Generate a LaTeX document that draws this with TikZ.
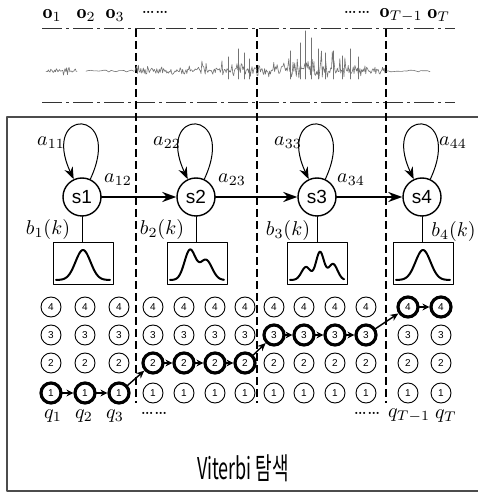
\documentclass[tikz,border=0pt]{standalone}
\usepackage{fontspec}
\usepackage{graphicx}
\newfontfamily\statefont{Liberation Sans}
\newfontfamily\krfont{Noto Sans CJK KR}
\usetikzlibrary{arrows.meta,positioning}
\tikzset{viterbi/.style={
  x=0.5pt,y=0.5pt,
  >=Stealth,line join=round,line cap=round
},
state/.style={circle,draw,line width=0.7pt,minimum size=19pt,inner sep=0pt,
  font=\statefont\fontsize{9.5}{9.5}\selectfont},
pdfbox/.style={draw,line width=0.5pt,minimum width=30pt,minimum height=21pt,inner sep=0pt},
cell/.style={circle,draw,minimum size=10pt,inner sep=0pt,
  font=\statefont\fontsize{5}{5}\selectfont},
trans/.style={-{Stealth[length=7pt,width=5pt]},line width=1.1pt},
selfloop/.style={-{Stealth[length=6pt,width=4.5pt]},line width=0.5pt},
hop/.style={-{Stealth[length=3.5pt,width=3.5pt]},line width=1pt,shorten <=-0.5pt},
jump/.style={-{Stealth[length=4pt,width=3.5pt]},line width=0.7pt},
seg/.style={dash pattern=on 4pt off 2pt,line width=0.6pt,line cap=butt},
band/.style={dash pattern=on 10pt off 2pt on 1.5pt off 2pt,line width=0.5pt,line cap=butt,black!80},
wave/.style={line width=0.3pt,black!55},
density/.style={line width=1pt,smooth}
}
\begin{document}
\begin{tikzpicture}[viterbi]
  \useasboundingbox (0,0) rectangle (477,493);
  \pgfmathsetseed{11}
  \draw[line width=1.3pt,black!70] (7,2) rectangle (484,376);
  \node (o1) at (52,478) {$\mathbf{o}_1$};
  \node (o2) at (86,478) {$\mathbf{o}_2$};
  \node (o3) at (115,478) {$\mathbf{o}_3$};
  \node (odots1) at (155,481) {\ldots\ldots};
  \node (odots2) at (357,481) {\ldots\ldots};
  \node[anchor=east,inner sep=0pt] (oT1) at (423,478) {$\mathbf{o}_{T-1}$};
  \node[anchor=west,inner sep=0pt] (oT) at (427,478) {$\mathbf{o}_T$};
  \draw[band] (42,464) -- (455,464);
  \draw[band] (42,390) -- (455,390);
  \foreach \x in {136,257,386}
    \draw[seg] (\x,464) -- (\x,90);
  \draw[wave] plot[domain=46:77,samples=40] (\x,{422+5*rand*rand});
  \draw[wave] plot[domain=86:134,samples=20] (\x,{422+1*rand});
  \draw[wave] plot[domain=135:385,samples=300]
    (\x,{422+2.5*rand+(8+16*exp(-((\x-315)/40)*((\x-315)/40))+8*exp(-((\x-240)/20)*((\x-240)/20)))*(1.6*rnd*rnd*rnd-0.5*rnd*rnd)});
  \draw[wave] plot[domain=386:430,samples=20] (\x,{422+0.8*rand});
  \foreach \x/\h in {228/14,238/22,244/18,249/12,290/20,300/28,305/40,311/33,318/22,325/18,333/20,342/15,350/22,358/14}
    \draw[wave,line width=0.5pt] (\x,414) -- (\x,422+\h);
  \node[state] (s1) at (82,296) {s1};
  \node[state] (s2) at (196,296) {s2};
  \node[state] (s3) at (317,296) {s3};
  \node[state] (s4) at (422,296) {s4};
  \node[pdfbox] (pdf1) at (83,229) {};
  \node[pdfbox] (pdf2) at (197,229) {};
  \node[pdfbox] (pdf3) at (317,229) {};
  \node[pdfbox] (pdf4) at (423,229) {};
  \foreach \i in {1,...,4}{
    \draw[selfloop] (s\i.65) .. controls +(65:80) and +(115:80) .. (s\i.115);
    \draw[line width=0.5pt] (s\i) -- (s\i |- pdf\i.north);
  }
  \draw[trans] (s1) -- (s2);
  \draw[trans] (s2) -- (s3);
  \draw[trans] (s3) -- (s4);
  \begin{scope}[shift={(pdf1.center)}]
    \draw[density] plot[domain=-27:27,samples=50] (\x,{-16+30*exp(-((\x)*(\x))/112)});
  \end{scope}
  \begin{scope}[shift={(pdf2.center)}]
    \draw[density] plot[domain=-27:27,samples=60]
      (\x,{-16+30*exp(-((\x+7)*(\x+7))/60.5)+20*exp(-((\x-9)*(\x-9))/72)});
  \end{scope}
  \begin{scope}[shift={(pdf3.center)}]
    \draw[density] plot[domain=-27:27,samples=70]
      (\x,{-16+13*exp(-((\x+11)*(\x+11))/40)+28*exp(-((\x-3)*(\x-3))/32)+16*exp(-((\x-16)*(\x-16))/40)});
  \end{scope}
  \begin{scope}[shift={(pdf4.center)}]
    \draw[density] plot[domain=-27:27,samples=50] (\x,{-16+30*exp(-((\x)*(\x))/112)});
  \end{scope}
  \node (a11) at (51,350) {$a_{11}$};
  \node (a22) at (167,350) {$a_{22}$};
  \node (a33) at (288,350) {$a_{33}$};
  \node (a44) at (453,350) {$a_{44}$};
  \node (a12) at (118,313) {$a_{12}$};
  \node (a23) at (232,313) {$a_{23}$};
  \node (a34) at (351,313) {$a_{34}$};
  \node (b1) at (48,263) {$b_1(k)$};
  \node (b2) at (162,263) {$b_2(k)$};
  \node (b3) at (288,262) {$b_3(k)$};
  \node[anchor=east,inner sep=0pt] (b4) at (476,261) {$b_4(k)$};
  \foreach \x/\p [count=\c] in {51/1,85/1,119/1,153/2,184/2,215/2,245/2,274/3,304/3,335/3,366/3,408/4,441/4}
    \foreach \y [count=\r] in {100,130,158,186}{
      \pgfmathsetmacro\lw{\r==\p ? 1.6 : 0.45}
      \node[cell,line width=\lw pt] (g\c-\r) at (\x,\y) {\r};
    }
  \foreach \a/\b in {1-1/2-1,2-1/3-1,4-2/5-2,5-2/6-2,6-2/7-2,8-3/9-3,9-3/10-3,10-3/11-3,12-4/13-4}
    \draw[hop] (g\a) -- (g\b);
  \foreach \a/\b in {3-1/4-2,7-2/8-3,11-3/12-4}
    \draw[jump] (g\a) -- (g\b);
  \node (q1) at (53,77) {$q_1$};
  \node (q2) at (84,77) {$q_2$};
  \node (q3) at (115,77) {$q_3$};
  \node[inner sep=0pt] (qdots1) at (154,80) {\ldots\ldots};
  \node[inner sep=0pt] (qdots2) at (367,80) {\ldots\ldots};
  \node (qT1) at (409,77) {$q_{T-1}$};
  \node (qT) at (446,77) {$q_T$};
  \node (title) at (243,25) {\scalebox{0.6}[1]{\krfont\fontsize{15}{15}\selectfont Viterbi 탐색}};
\end{tikzpicture}
\end{document}
